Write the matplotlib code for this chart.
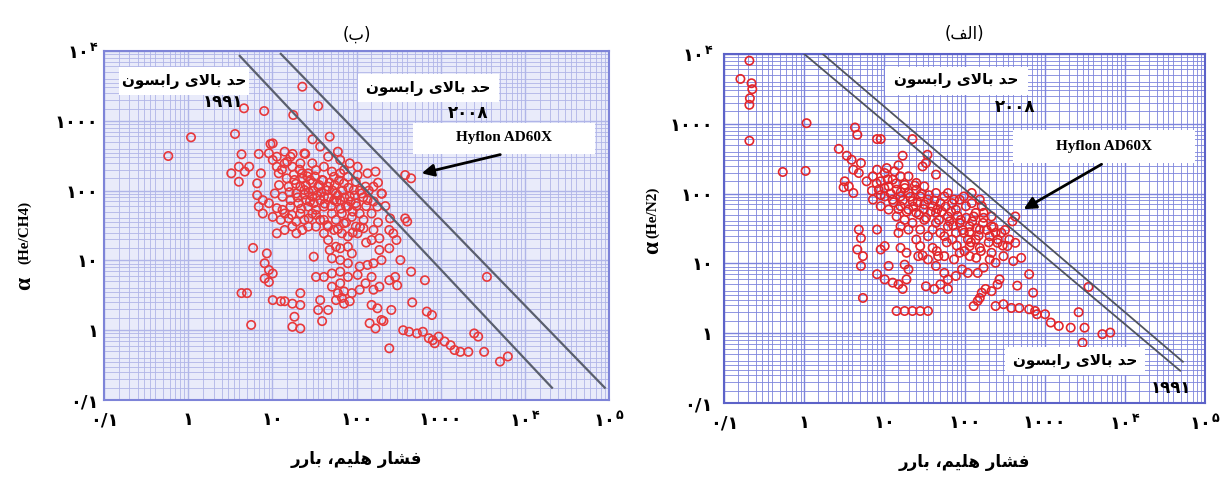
import matplotlib
matplotlib.use("Agg")
import matplotlib.pyplot as plt
import matplotlib.ticker as mticker
from matplotlib.patches import Rectangle
import numpy as np

plt.rcParams['mathtext.fontset'] = 'dejavusans'

# ---- data (pressure in barrer, selectivity) ----
ch4_pressure = [0.58, 1.08, 3.6, 4.6, 8.0, 17.7, 22.7, 35, 30, 48, 9.5, 4.3, 6.9, 17.4, 24.6,
                445, 378, 3540, 400, 378, 298, 332, 445, 649, 459, 684, 787, 245,
                358, 421, 522, 614, 722, 805, 849, 946, 1110, 1310, 1460, 1710, 2130, 2500, 2790, 3280, 5060, 6280,
                198, 143, 168, 209, 151, 177, 259, 159, 187, 245, 288, 304, 135, 159, 198, 245, 187, 151, 187, 245,
                273, 121, 159, 177, 198, 159, 168, 103, 135, 83, 64, 60, 46, 37, 24, 14, 10.1, 4.0, 3.25, 4.0,
                5.3, 4.7, 7.3, 6.6, 10.1, 11.3, 14, 17.3, 21.5, 29.8, 33, 41, 51, 64, 79, 98, 71, 6.6, 7.7, 6.9,
                9.1, 11.3, 10.1, 12.6, 14, 17.3, 11.3, 14, 19.3, 22.7, 15.6, 19.3, 24, 29.8, 37, 26.7, 33, 41, 51, 64,
                79, 98, 57, 46, 37, 46, 57, 71, 88, 109, 121, 29.8, 21.5, 24, 33, 46, 57, 79, 64, 51,
                88, 31, 33, 41, 51, 64, 79, 103, 51, 60, 71, 88, 109, 57, 71, 83, 67, 46, 39, 37,
                35, 21.5, 17.3, 21.5, 14, 12.6, 10.1, 18.3, 17.3, 21.5, 5.6, 4.3, 5.0, 5.9, 8.6, 8.1, 9.1, 8.1, 10.1, 9.1,
                9.1, 11.3, 16.4, 11.9, 14.8, 18.3, 22.7, 28, 35, 16.4, 20.4, 13.2, 10.7, 21.5, 26.7, 41, 54, 67, 83, 93,
                115, 135, 151, 128, 103, 71, 54, 39, 25.4, 31, 16.4, 13.2, 7.7, 15.6, 19.3, 26.7, 41, 54, 67, 103,
                79, 98, 64, 41, 48, 79, 109, 151, 128, 64,
                12, 13, 15, 16, 18, 19, 20, 21, 23, 24, 25, 26, 27, 28, 30, 31, 32, 34, 36, 38,
                40, 42, 44, 46, 48, 50, 52, 55, 58, 60, 62, 65, 68, 72, 75, 80, 85, 90, 95, 100,
                110, 120, 130, 140, 160, 180, 200, 220, 17, 22, 27, 33, 45, 60, 75, 90, 110, 130, 180, 250]
ch4_alpha = [313, 580, 647, 1510, 1380, 1210, 3080, 1630, 543, 593, 466, 331, 335, 335, 335,
             150, 167, 5.8, 36, 40, 19.6, 10.1, 6.9, 5.2, 2.5, 1.85, 1.65, 0.55,
             1.0, 0.95, 0.90, 0.95, 0.77, 0.72, 0.65, 0.81, 0.69, 0.61, 0.52, 0.49, 0.49, 0.90, 0.81, 0.49, 0.355, 0.42,
             1.40, 1.26, 1.06, 1.35, 2.3, 2.06, 1.95, 3.8, 4.2, 5.2, 5.8, 4.4, 8.6, 9.1, 10.1, 14.9, 14.1, 19.6, 20.7, 27.3,
             24.4, 28.9, 27.3, 59, 91, 114, 187, 167, 177, 246, 275, 361, 306, 427, 342, 361, 475, 220, 177, 134,
             220, 187, 177, 127, 275, 220, 246, 220, 246, 246, 197, 220, 187, 177, 158, 134, 127, 86, 73, 59,
             66, 56, 42, 38, 47, 30.5, 24.4, 27.3, 24.4, 27.3, 114, 91, 102, 82, 73, 59, 53, 59, 47, 73,
             59, 66, 91, 114, 38, 30.5, 38, 34, 42, 47, 38, 47, 47, 38, 30.5, 19.6, 15.7, 15.7, 10.1, 10.7,
             12.6, 11.3, 5.8, 5.8, 6.5, 6.9, 5.8, 6.2, 4.2, 3.4, 3.6, 3.4, 3.8, 2.7, 2.4, 2.6, 2.9, 1.95, 1.35, 2.7,
             1.95, 3.4, 2.4, 2.3, 2.6, 2.6, 2.7, 1.56, 1.12, 1.06, 1.19, 3.4, 3.4, 15.1, 12.6, 9.1, 7.3, 5.5, 6.5, 4.9,
             342, 306, 306, 177, 150, 142, 177, 142, 114, 73, 66, 82, 91, 114, 177, 82, 73, 47, 82, 102,
             91, 73, 47, 114, 220, 197, 158, 142, 73, 66, 59, 53, 47, 40, 36, 30.5, 38, 27.3, 24.4, 24.4,
             22, 30.5, 14.9, 24.4, 14.1, 9.1, 8.2, 5.8, 4.7, 4.7,
             120, 200, 260, 95, 170, 125, 80, 200, 150, 88, 120, 160, 95, 70, 130, 100, 160, 85, 120, 95,
             140, 65, 100, 80, 130, 60, 100, 120, 70, 85, 140, 55, 100, 80, 60, 110, 70, 50, 85, 60,
             100, 80, 60, 100, 70, 130, 90, 60, 45, 55, 40, 45, 32, 28, 35, 25, 30, 18, 35, 40]

n2_pressure = [0.207, 0.16, 0.22, 0.225, 0.21, 0.207, 0.207, 0.54, 1.04, 1.07, 4.3, 4.6, 8.1, 9.0, 22.4, 34.5,
               16.9, 2.7, 3.4, 3.9, 5.1, 4.1, 4.8, 3.2, 3.6, 3.1, 4.1, 15, 30, 44, 33, 13.4,
               164, 430, 396, 3520, 2650, 3140, 5240, 6580, 2970, 2110, 1500, 1190, 1010, 803, 759, 640,
               482, 384, 306, 244, 717, 640, 455, 258, 217, 164, 146, 130, 155, 183, 273, 509, 406, 342,
               306, 244, 206, 173, 146, 110, 93, 78, 62, 50, 42, 33, 62, 16.9, 15, 18.9, 10.1, 12.7,
               8.1, 11.3, 17.9, 20, 5.1, 5.4, 14.2, 17.9, 22.4, 28, 35, 4.8, 5.1, 4.6, 5.4, 8.1,
               10.1, 9.0, 15.9, 15, 15.9, 18.9, 26.5, 35, 44, 56, 47, 28, 40, 56, 74, 87,
               116, 116, 155, 217, 258, 206, 155, 217, 173, 130, 98, 70, 50, 35, 25, 20,
               7.2, 8.1, 9.0, 10.1, 11.3, 12.7, 14.2, 17.9, 15.9, 20, 22.4, 25, 28, 31.5, 35, 40,
               44, 50, 56, 62, 70, 78, 87, 104, 123, 138, 116, 87, 62, 44, 31.5, 25,
               20, 15.9, 12.7, 10.1, 8.5, 7.2, 9.0, 11.3, 14.2, 17.9, 22.4, 28, 40, 56, 78, 138,
               110, 10.7, 20, 25, 15.9, 31.5, 44, 62, 74, 98, 123, 155, 173, 217, 244, 288,
               362, 430,
               6, 7, 8, 9, 10, 11, 12, 13, 14, 15, 16, 17, 18, 19, 21, 23, 24, 26, 27, 29,
               31, 33, 36, 38, 42, 46, 48, 52, 58, 65, 68, 72, 82, 90, 95, 105, 115, 125, 140, 150,
               170, 190, 200, 230, 260, 300, 320, 60, 80, 100, 120, 140, 160, 45, 30]
n2_alpha = [8020, 4390, 3810, 3130, 2320, 1870, 571, 204, 211, 1020, 885, 695, 604, 604, 604, 360,
            349, 438, 349, 305, 274, 220, 197, 150, 127, 123, 102, 254, 245, 187, 274, 208,
            66, 47, 40, 4.6, 2.0, 1.2, 0.97, 1.02, 0.73, 1.2, 1.27, 1.42, 1.87, 1.87, 2.08, 2.2,
            2.3, 2.3, 2.6, 2.45, 3.8, 7.0, 4.8, 5.0, 4.0, 3.8, 2.9, 2.45, 3.2, 4.3, 5.9, 12, 10.8, 17.7,
            12.7, 10.2, 11.4, 8.7, 7.3, 7.3, 8.2, 6.6, 5.9, 5.0, 4.3, 4.7, 4.3, 4.3, 5.0, 5.9, 5.9, 5.3,
            7.0, 9.2, 9.6, 8.2, 9.2, 3.2, 2.08, 2.08, 2.08, 2.08, 2.08, 30.5, 23, 15.8, 12.7, 30.5,
            17.7, 15.8, 16.7, 27.4, 34, 14.2, 12.7, 11.4, 9.2, 7.3, 12.7, 17.7, 16.7, 12.7, 11.4, 14.2,
            12.7, 17.7, 16.7, 14.2, 19.7, 24.5, 30.5, 34, 45, 47, 27.4, 22, 27.4, 24.5, 22, 30.5,
            177, 220, 150, 197, 127, 158, 114, 134, 91, 102, 78, 114, 91, 70, 82, 66,
            53, 73, 91, 47, 73, 59, 82, 66, 73, 53, 34, 38, 34, 38, 42, 53,
            59, 66, 82, 91, 114, 82, 66, 59, 47, 42, 38, 30.5, 30.5, 24.5, 27.4, 22,
            22, 232, 177, 142, 177, 127, 102, 102, 82, 91, 102, 82, 53, 47, 27.4, 27.4,
            22, 19.7,
            150, 110, 140, 95, 120, 160, 100, 75, 140, 60, 105, 80, 120, 55, 90, 65, 130, 75, 50, 100,
            60, 45, 95, 55, 80, 60, 42, 55, 65, 40, 55, 35, 48, 42, 30, 45, 28, 40, 32, 25,
            38, 30, 20, 33, 22, 18, 30, 20, 18, 15, 20, 12, 15, 15, 13]

# Robeson upper bounds (end points)
rob1991_ch4_p = [4.1, 21000]
rob1991_ch4_a = [8500, 0.15]
rob2008_ch4_p = [12.6, 89000]
rob2008_ch4_a = [9100, 0.15]
rob1991_n2_p = [1.0, 49000]
rob1991_n2_a = [10000, 0.29]
rob2008_n2_p = [1.7, 53000]
rob2008_n2_a = [10000, 0.39]

hyflon_ch4 = (551, 173)
hyflon_n2 = (510, 57)

tick_vals = [0.1, 1, 10, 100, 1000, 1e4, 1e5]
x_ticklabels = ['\u06f0/\u06f1', '\u06f1', '\u06f1\u06f0', '\u06f1\u06f0\u06f0', '\u06f1\u06f0\u06f0\u06f0',
                '$\\mathbf{\u06f1\u06f0^{\u06f4}}$', '$\\mathbf{\u06f1\u06f0^{\u06f5}}$']
y_vals = [0.1, 1, 10, 100, 1000, 1e4]
y_ticklabels = x_ticklabels[:6]

# Persian strings in visual (shaped, left-to-right) order
robeson_txt = '\ufee5\ufeee\ufeb4\ufe91\ufe8d\ufead \ufbfc\ufefb\ufe8e\ufe91 \ufeaa\ufea3'
xlabel_txt = '\ufead\ufead\ufe8e\ufe91 \u060c\ufee2\ufbff\ufee0\ufeeb \ufead\ufe8e\ufeb8\ufed3'
title_b = '(\ufe8f)'
title_alef = '(\ufed2\ufedf\ufe8d)'
yr1991 = '\u06f1\u06f9\u06f9\u06f1'
yr2008 = '\u06f2\u06f0\u06f0\u06f8'

fa = dict(family='DejaVu Sans', fontweight='bold')

fig = plt.figure(figsize=(12.21, 4.82), dpi=100)
axL = fig.add_axes([0.0852, 0.1701, 0.4136, 0.7241])
axR = fig.add_axes([0.593, 0.1639, 0.3939, 0.7241])


def style_axis(ax, face, gcol, spine, ypad):
    ax.set_xscale('log')
    ax.set_yscale('log')
    ax.set_xlim(0.1, 1e5)
    ax.set_ylim(0.1, 1e4)
    ax.set_facecolor(face)
    ax.xaxis.set_minor_locator(mticker.LogLocator(base=10, subs=[1.5, 2, 2.5, 3, 3.5, 4, 5, 6, 7, 8, 9]))
    ax.yaxis.set_minor_locator(mticker.LogLocator(base=10, subs=[1.5, 2, 2.5, 3, 3.5, 4, 5, 6, 7, 8, 9]))
    ax.xaxis.set_minor_formatter(mticker.NullFormatter())
    ax.yaxis.set_minor_formatter(mticker.NullFormatter())
    ax.grid(True, which='major', color=gcol, lw=1.0)
    ax.grid(True, which='minor', color=gcol, lw=0.6)
    ax.set_axisbelow(True)
    ax.set_xticks(tick_vals)
    ax.set_xticklabels(x_ticklabels, fontsize=13, **fa)
    ax.set_yticks(y_vals)
    ax.set_yticklabels(y_ticklabels, fontsize=13, **fa)
    ax.tick_params(which='both', direction='in', color=spine, length=0)
    ax.tick_params(axis='x', pad=8)
    ax.tick_params(axis='y', pad=ypad)
    for s in ax.spines.values():
        s.set_color(spine)
        s.set_linewidth(1.5)


style_axis(axL, '#e9ebfa', '#b0b5e8', '#7e84d8', 4)
style_axis(axR, 'white', '#7d84dc', '#5c62c8', 8)

axL.scatter(ch4_pressure, ch4_alpha, s=36, facecolors='none', edgecolors='#e8393b', linewidths=1.2, zorder=3)
axR.scatter(n2_pressure, n2_alpha, s=36, facecolors='none', edgecolors='#e3262b', linewidths=1.2, zorder=3)

axL.plot(rob1991_ch4_p, rob1991_ch4_a, color='#5a5f6e', lw=1.6, zorder=4)
axL.plot(rob2008_ch4_p, rob2008_ch4_a, color='#5a5f6e', lw=1.6, zorder=4)
axR.plot(rob1991_n2_p, rob1991_n2_a, color='#50545e', lw=1.3, zorder=4)
axR.plot(rob2008_n2_p, rob2008_n2_a, color='#50545e', lw=1.3, zorder=4)


def box(ax, x0, y0, x1, y1):
    ax.add_patch(Rectangle((x0, y0), x1 - x0, y1 - y0, transform=ax.transAxes,
                           facecolor='white', edgecolor='none', zorder=5))


# left panel annotations
box(axL, 0.030, 0.874, 0.287, 0.954)
axL.text(0.158, 0.914, robeson_txt, transform=axL.transAxes, ha='center', va='center', fontsize=11, zorder=6, **fa)
axL.text(0.236, 0.854, yr1991, transform=axL.transAxes, ha='center', va='center', fontsize=12, zorder=6, **fa)
box(axL, 0.503, 0.854, 0.782, 0.935)
axL.text(0.642, 0.893, robeson_txt, transform=axL.transAxes, ha='center', va='center', fontsize=11, zorder=6, **fa)
axL.text(0.721, 0.822, yr2008, transform=axL.transAxes, ha='center', va='center', fontsize=12, zorder=6, **fa)
box(axL, 0.612, 0.705, 0.972, 0.794)
axL.text(0.792, 0.751, 'Hyflon AD60X', transform=axL.transAxes, ha='center', va='center', fontsize=11,
         family='Liberation Serif', fontweight='bold', zorder=6)
axL.annotate('', xy=hyflon_ch4, xycoords='data', xytext=(0.790, 0.705), textcoords='axes fraction',
             arrowprops=dict(arrowstyle='-|>', color='black', lw=2, mutation_scale=18), zorder=6)

# right panel annotations
box(axR, 0.335, 0.883, 0.632, 0.963)
axR.text(0.482, 0.923, robeson_txt, transform=axR.transAxes, ha='center', va='center', fontsize=11, zorder=6, **fa)
axR.text(0.605, 0.848, yr2008, transform=axR.transAxes, ha='center', va='center', fontsize=12, zorder=6, **fa)
box(axR, 0.601, 0.688, 0.979, 0.782)
axR.text(0.790, 0.735, 'Hyflon AD60X', transform=axR.transAxes, ha='center', va='center', fontsize=11,
         family='Liberation Serif', fontweight='bold', zorder=6)
axR.annotate('', xy=hyflon_n2, xycoords='data', xytext=(0.790, 0.688), textcoords='axes fraction',
             arrowprops=dict(arrowstyle='-|>', color='black', lw=2, mutation_scale=18), zorder=6)
box(axR, 0.584, 0.080, 0.875, 0.160)
axR.text(0.730, 0.120, robeson_txt, transform=axR.transAxes, ha='center', va='center', fontsize=11, zorder=6, **fa)
axR.text(0.929, 0.043, yr1991, transform=axR.transAxes, ha='center', va='center', fontsize=12, zorder=6, **fa)

# titles and axis labels
axL.set_title(title_b, fontsize=12, family='DejaVu Sans', pad=8)
axR.set_title(title_alef, fontsize=12, family='DejaVu Sans', pad=11)
axL.set_xlabel(xlabel_txt, fontsize=12, labelpad=14, **fa)
axR.set_xlabel(xlabel_txt, fontsize=12, labelpad=14, **fa)

fig.text(25 / 1221, 1 - 283 / 482, '\u03b1', rotation=90, ha='center', va='center', fontsize=17,
         family='Liberation Serif', fontweight='bold')
fig.text(25 / 1221, 1 - 232 / 482, '(He/CH4)', rotation=90, ha='center', va='center', fontsize=11,
         family='Liberation Serif', fontweight='bold')
fig.text(653 / 1221, 1 - 247 / 482, '\u03b1', rotation=90, ha='center', va='center', fontsize=17,
         family='Liberation Serif', fontweight='bold')
fig.text(653 / 1221, 1 - 212 / 482, '(He/N2)', rotation=90, ha='center', va='center', fontsize=11,
         family='Liberation Serif', fontweight='bold')

fig.savefig('out.png', dpi=100, facecolor='white')
